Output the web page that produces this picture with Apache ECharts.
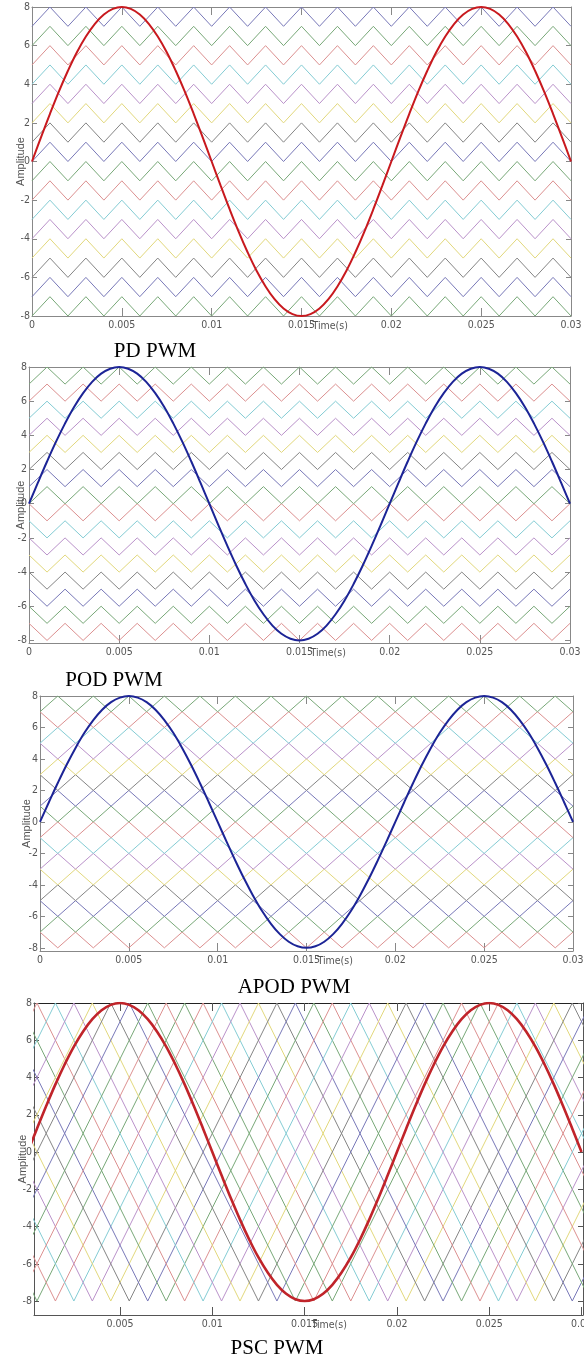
<!DOCTYPE html>
<html>
<head>
<meta charset="UTF-8">
<title>PD / POD / APOD / PSC PWM</title>
<script src="https://cdn.jsdelivr.net/npm/echarts@6.0.0/dist/echarts.min.js"></script>
<style>
html, body { margin: 0; padding: 0; background: #fff; }
#main { width: 584px; height: 1365px; }
</style>
</head>
<body>
<div id="main"></div>
<script type="text/javascript">
// tick labels
var xTicks = [0, 0.005, 0.01, 0.015, 0.02, 0.025, 0.03];
var yTicks = [-8, -6, -4, -2, 0, 2, 4, 6, 8];
var titles = ['PD PWM', 'POD PWM', 'APOD PWM', 'PSC PWM'];

// reference wave, read every 0.5 ms
var sineStep = 0.0005;
var sineV = [0, 1.25, 2.47, 3.63, 4.70, 5.66, 6.47, 7.13, 7.61, 7.90, 8, 7.90, 7.61, 7.13, 6.47, 5.66, 4.70, 3.63, 2.47, 1.25, 0,
  -1.25, -2.47, -3.63, -4.70, -5.66, -6.47, -7.13, -7.61, -7.90, -8, -7.90, -7.61, -7.13, -6.47, -5.66, -4.70, -3.63, -2.47, -1.25, 0,
  1.25, 2.47, 3.63, 4.70, 5.66, 6.47, 7.13, 7.61, 7.90, 8, 7.90, 7.61, 7.13, 6.47, 5.66, 4.70, 3.63, 2.47, 1.25, 0];

// level shifted carriers: corners every 1 ms, one band per level (bottom to top)
var carrierStep = 0.001;
var carrierCount = 31;
var bandLow = [-8, -7, -6, -5, -4, -3, -2, -1, 0, 1, 2, 3, 4, 5, 6, 7];
// 0 = band starts at its bottom at t=0, 1 = starts at its top
var pdPhase   = [0, 0, 0, 0, 0, 0, 0, 0, 0, 0, 0, 0, 0, 0, 0, 0];
var podPhase  = [1, 1, 1, 1, 1, 1, 1, 1, 0, 0, 0, 0, 0, 0, 0, 0];
var apodPhase = [1, 0, 1, 0, 1, 0, 1, 0, 1, 0, 1, 0, 1, 0, 1, 0];

// phase shifted carriers: full -8..8 swing, valley times of each one
var pscValley = [0.0005, 0.0015, 0.0025, 0.0035, 0.0045, 0.0055, 0.0065, 0.0075,
  0.0085, 0.0095, 0.0105, 0.0115, 0.0125, 0.0135, 0.0145, 0.0155];
var pscHalfPeriod = 0.008;

// matlab colour order, faded like the scan
var mc = { b: '#7878b8', g: '#78a878', r: '#dc9090', c: '#84ccd4', m: '#ba92ca', y: '#e2d87c', k: '#858585' };
var pdColors   = ['g', 'b', 'k', 'y', 'm', 'c', 'r', 'g', 'b', 'k', 'y', 'm', 'c', 'r', 'g', 'b'];
var podColors  = ['r', 'g', 'b', 'k', 'y', 'm', 'c', 'r', 'g', 'b', 'k', 'y', 'm', 'c', 'r', 'g'];
var pscColors  = ['g', 'r', 'c', 'm', 'y', 'k', 'b', 'g', 'r', 'c', 'm', 'y', 'k', 'b', 'g', 'r'];

var panels = [
  { grid: { left: 32, top: 7, width: 539, height: 309 }, x: [0, 0.03], y: [-8, 8], sine: '#c8191e', sw: 2, axis: '#888', ampGap: 6, timePad: 11, title: [150, 336] },
  { grid: { left: 29, top: 367, width: 541, height: 276 }, x: [0, 0.03], y: [-8.15, 8], sine: '#1c2496', sw: 2, axis: '#888', ampGap: 3, timePad: 11, title: [109, 665] },
  { grid: { left: 40, top: 696, width: 533, height: 255 }, x: [0, 0.03], y: [-8.2, 8], sine: '#1c2496', sw: 2, axis: '#888', ampGap: 8, timePad: 11, title: [289, 972] },
  { grid: { left: 34, top: 1003, width: 549, height: 312 }, x: [0.00034, 0.03008], y: [-8.75, 8], sine: '#c0242a', sw: 2.6, axis: '#555', ampGap: 6, timePad: 3, title: [272, 1333] }
];

var tickFont = '"Liberation Sans Narrow", "DejaVu Sans Condensed", "Liberation Sans", sans-serif';

var myChart = echarts.init(document.getElementById('main'));
var grids = [], xAxes = [], yAxes = [], series = [], titleList = [];

function inRange(list, r) {
  return list.filter(function (v) { return v >= r[0] - 1e-9 && v <= r[1] + 1e-9; });
}

panels.forEach(function (p, g) {
  var gr = p.grid;
  gr.outerBoundsMode = 'none';
  gr.containLabel = false;
  grids.push(gr);
  var xt = inRange(xTicks, p.x);
  var yt = inRange(yTicks, p.y);
  var lineStyle = { color: p.axis, width: 1 };
  // bottom x
  xAxes.push({
    type: 'value', gridIndex: g, min: p.x[0], max: p.x[1], position: 'bottom',
    splitLine: { show: false },
    axisLine: { show: true, onZero: false, lineStyle: lineStyle },
    axisTick: { show: true, inside: true, length: 8, customValues: xt, lineStyle: lineStyle },
    axisLabel: { customValues: xt, margin: 4, color: '#555', fontSize: 10.5, fontFamily: tickFont,
      formatter: function (v) { return String(+v.toFixed(4)); } },
    name: 'Time(s)', nameLocation: 'middle', nameGap: 5, nameMoveOverlap: false,
    nameTextStyle: { color: '#555', fontSize: 10.5, fontFamily: tickFont, align: 'left', verticalAlign: 'top', padding: [0, 0, 0, p.timePad] }
  });
  // top mirror
  xAxes.push({
    type: 'value', gridIndex: g, min: p.x[0], max: p.x[1], position: 'top',
    splitLine: { show: false },
    axisLine: { show: true, onZero: false, lineStyle: { color: g === 3 ? '#222' : p.axis, width: 1 } },
    axisTick: { show: true, inside: true, length: 8, customValues: xt, lineStyle: lineStyle },
    axisLabel: { show: false }
  });
  // left y
  yAxes.push({
    type: 'value', gridIndex: g, min: p.y[0], max: p.y[1], position: 'left',
    splitLine: { show: false },
    axisLine: { show: true, onZero: false, lineStyle: lineStyle },
    axisTick: { show: true, inside: true, length: 5, customValues: yt, lineStyle: lineStyle },
    axisLabel: { customValues: yt, margin: 2, color: '#555', fontSize: 10.5, fontFamily: tickFont },
    name: 'Amplitude', nameLocation: 'middle', nameRotate: 90, nameGap: p.ampGap, nameMoveOverlap: false,
    nameTextStyle: { color: '#555', fontSize: 11, fontFamily: '"Liberation Sans", Arial, sans-serif' }
  });
  // right mirror
  yAxes.push({
    type: 'value', gridIndex: g, min: p.y[0], max: p.y[1], position: 'right',
    splitLine: { show: false },
    axisLine: { show: true, onZero: false, lineStyle: lineStyle },
    axisTick: { show: true, inside: true, length: 5, customValues: yt, lineStyle: lineStyle },
    axisLabel: { show: false }
  });
  titleList.push({
    text: titles[g], left: p.title[0], top: p.title[1], textAlign: 'center',
    textStyle: { fontFamily: '"Liberation Serif", "Times New Roman", serif', fontSize: 21, fontWeight: 'normal', color: '#000' }
  });
});

function addLine(g, data, color, width, z, smooth) {
  series.push({
    type: 'line', xAxisIndex: g * 2, yAxisIndex: g * 2, data: data,
    symbol: 'none', smooth: smooth || false, silent: true, z: z,
    lineStyle: { color: color, width: width }
  });
}

// level shifted panels
[[pdPhase, pdColors], [podPhase, podColors], [apodPhase, podColors]].forEach(function (cfg, g) {
  for (var k = 0; k < bandLow.length; k++) {
    var pts = [];
    for (var i = 0; i < carrierCount; i++) {
      pts.push([i * carrierStep, bandLow[k] + (i + cfg[0][k]) % 2]);
    }
    addLine(g, pts, mc[cfg[1][k]], 1, 2);
  }
});

// phase shifted panel
pscValley.forEach(function (v, j) {
  var pts = [];
  for (var m = 0; ; m++) {
    var t = v - 2 * pscHalfPeriod + m * pscHalfPeriod;
    pts.push([t, m % 2 === 0 ? -8 : 8]);
    if (t > 0.032) break;
  }
  addLine(3, pts, mc[pscColors[j]], 1, 2);
});

// reference sine on every panel
var sinePts = sineV.map(function (v, i) { return [i * sineStep, v]; });
panels.forEach(function (p, g) {
  addLine(g, sinePts, p.sine, p.sw, 5, 0.4);
});

var option = {
  animation: false,
  backgroundColor: '#fff',
  title: titleList,
  grid: grids,
  xAxis: xAxes,
  yAxis: yAxes,
  series: series
};
myChart.setOption(option);
</script>
</body>
</html>
